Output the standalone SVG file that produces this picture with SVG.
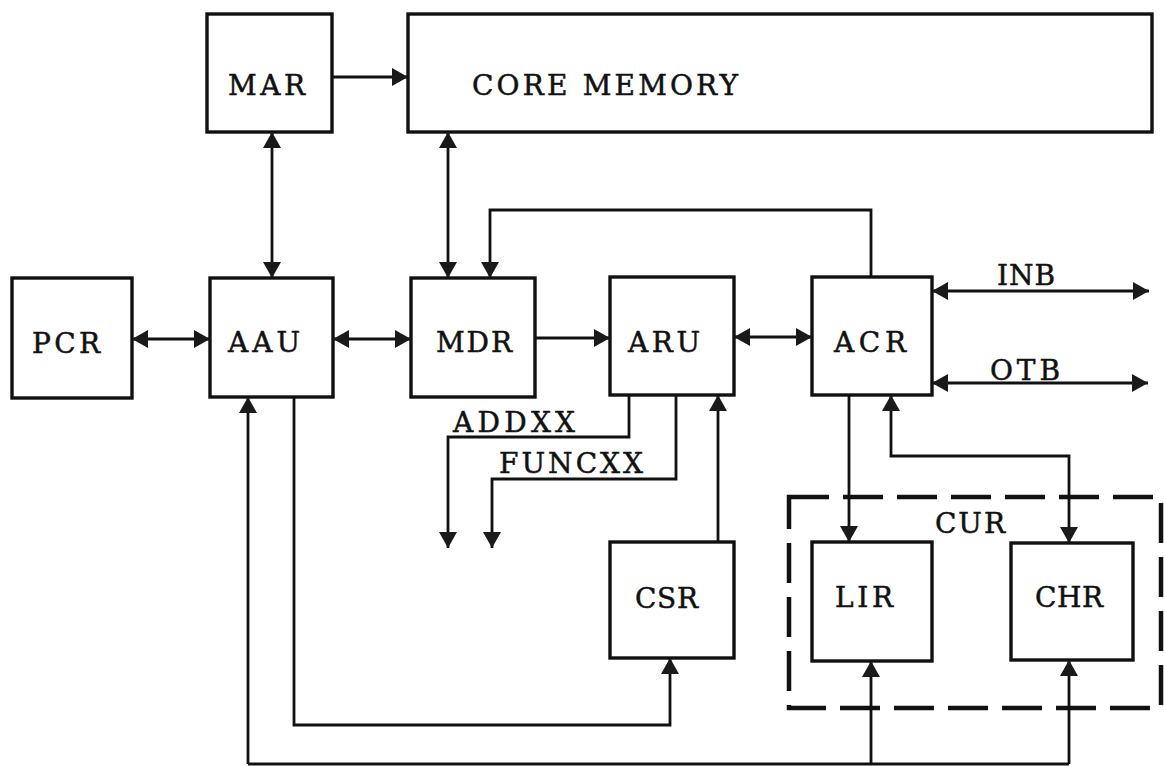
<svg xmlns="http://www.w3.org/2000/svg" width="1164" height="766" viewBox="0 0 1164 766">
<style>
.box{fill:#fff;stroke:#111;stroke-width:3.4}
.cn{fill:none;stroke:#111;stroke-width:2.8}
.dash{fill:none;stroke:#111;stroke-width:4.5;stroke-dasharray:40,14}
text{font-family:"DejaVu Serif","Liberation Serif",serif;font-size:28px;fill:#111;stroke:#111;stroke-width:0.5}
</style>
<defs>
<marker id="ah" viewBox="0 0 16 18" markerWidth="16" markerHeight="18" refX="16" refY="9" orient="auto-start-reverse" markerUnits="userSpaceOnUse">
<path d="M0,0 L16,9 L0,18 z" fill="#1a1a1a"/>
</marker>
</defs>
<rect width="1164" height="766" fill="#fff"/>
<g id="cur">
<rect class="dash" x="789" y="497" width="372" height="211"/>
<text x="935" y="533" textLength="70" lengthAdjust="spacing">CUR</text>
</g>
<g id="mar"><rect class="box" x="207" y="14" width="125" height="118"/><text x="228" y="95" textLength="77" lengthAdjust="spacing">MAR</text></g>
<g id="core"><rect class="box" x="408" y="14" width="744" height="118"/><text x="472" y="95" textLength="266" lengthAdjust="spacing">CORE MEMORY</text></g>
<g id="pcr"><rect class="box" x="12" y="278" width="120" height="120"/><text x="32" y="353" textLength="68" lengthAdjust="spacing">PCR</text></g>
<g id="aau"><rect class="box" x="210" y="278" width="123" height="119"/><text x="228" y="352" textLength="72" lengthAdjust="spacing">AAU</text></g>
<g id="mdr"><rect class="box" x="411" y="278" width="124" height="119"/><text x="436" y="352" textLength="76" lengthAdjust="spacing">MDR</text></g>
<g id="aru"><rect class="box" x="610" y="277" width="124" height="118"/><text x="628" y="352" textLength="72" lengthAdjust="spacing">ARU</text></g>
<g id="acr"><rect class="box" x="812" y="277" width="120" height="118"/><text x="834" y="352" textLength="72" lengthAdjust="spacing">ACR</text></g>
<g id="csr"><rect class="box" x="610" y="542" width="124" height="116"/><text x="635" y="608" textLength="63" lengthAdjust="spacing">CSR</text></g>
<g id="lir"><rect class="box" x="812" y="542" width="120" height="119"/><text x="835" y="607" textLength="58" lengthAdjust="spacing">LIR</text></g>
<g id="chr"><rect class="box" x="1011" y="543" width="122" height="117"/><text x="1035" y="607" textLength="68" lengthAdjust="spacing">CHR</text></g>
<g id="connectors">
<path class="cn" d="M332,77 H408" marker-end="url(#ah)"/>
<path class="cn" d="M272,132 V278" marker-start="url(#ah)" marker-end="url(#ah)"/>
<path class="cn" d="M448,132 V278" marker-start="url(#ah)" marker-end="url(#ah)"/>
<path class="cn" d="M871,277 V210 H490 V278" marker-end="url(#ah)"/>
<path class="cn" d="M132,339 H210" marker-start="url(#ah)" marker-end="url(#ah)"/>
<path class="cn" d="M333,339 H411" marker-start="url(#ah)" marker-end="url(#ah)"/>
<path class="cn" d="M535,338 H610" marker-end="url(#ah)"/>
<path class="cn" d="M734,337 H812" marker-start="url(#ah)" marker-end="url(#ah)"/>
<path class="cn" d="M932,291 H1149" marker-start="url(#ah)" marker-end="url(#ah)"/>
<path class="cn" d="M932,383 H1148" marker-start="url(#ah)" marker-end="url(#ah)"/>
<path class="cn" d="M629,395 V437 H448 V548" marker-end="url(#ah)"/>
<path class="cn" d="M676,395 V479 H492 V548" marker-end="url(#ah)"/>
<path class="cn" d="M718,542 V395" marker-end="url(#ah)"/>
<path class="cn" d="M294,397 V725 H670 V658" marker-end="url(#ah)"/>
<path class="cn" d="M248,764 H1069"/>
<path class="cn" d="M248,764 V397" marker-end="url(#ah)"/>
<path class="cn" d="M871,764 V661" marker-end="url(#ah)"/>
<path class="cn" d="M1069,764 V660" marker-end="url(#ah)"/>
<path class="cn" d="M849,395 V542" marker-end="url(#ah)"/>
<path class="cn" d="M891,395 V456 H1069 V543" marker-start="url(#ah)" marker-end="url(#ah)"/>
<text x="997" y="285" textLength="58" lengthAdjust="spacing">INB</text>
<text x="990" y="380" textLength="70" lengthAdjust="spacing">OTB</text>
<text x="453" y="432" textLength="122" lengthAdjust="spacing">ADDXX</text>
<text x="499" y="473" textLength="144" lengthAdjust="spacing">FUNCXX</text>
</g>
</svg>
